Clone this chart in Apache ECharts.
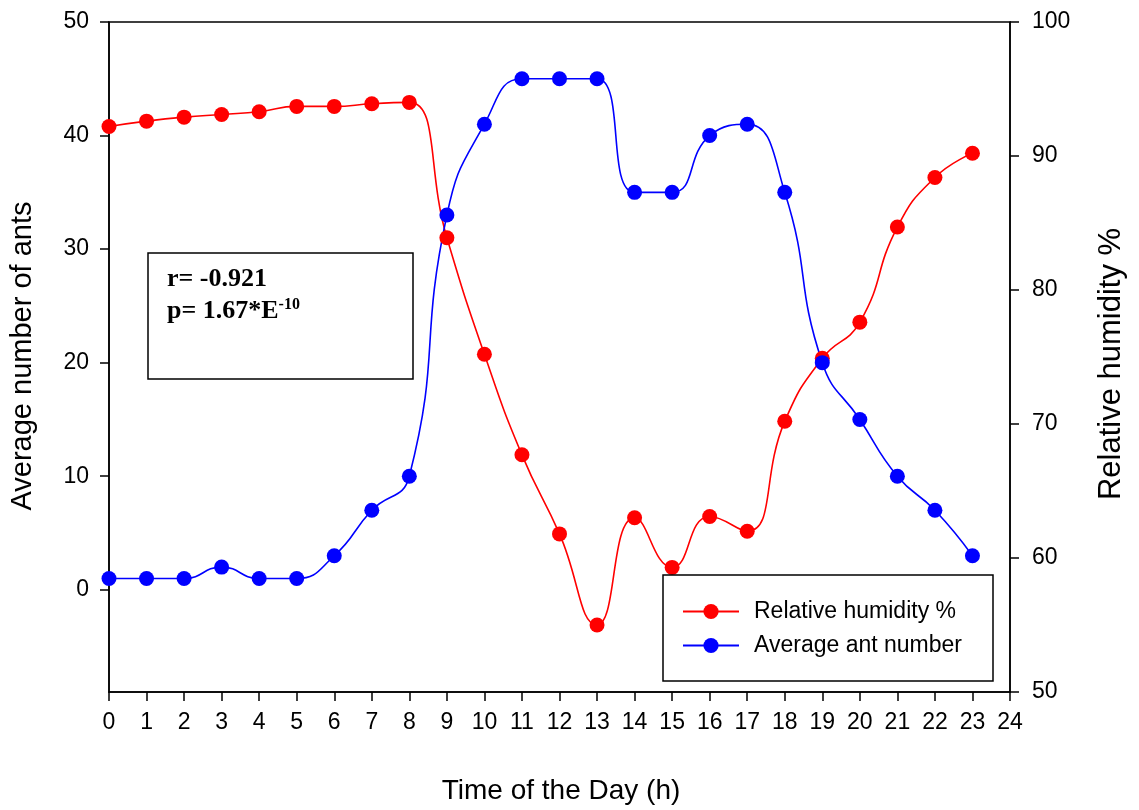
<!DOCTYPE html>
<html>
<head>
<meta charset="utf-8">
<script src="https://cdn.jsdelivr.net/npm/echarts@6/dist/echarts.min.js"></script>
<style>html,body{margin:0;padding:0;background:#fff}#c{width:1139px;height:810px}</style>
</head>
<body>
<div id="c"></div>
<script>
const hours = [0,1,2,3,4,5,6,7,8,9,10,11,12,13,14,15,16,17,18,19,20,21,22,23];
const humidity = [92.2,92.6,92.9,93.1,93.3,93.7,93.7,93.9,94.0,83.9,75.2,67.7,61.8,55.0,63.0,59.3,63.1,62.0,70.2,74.9,77.6,84.7,88.4,90.2];
const ants = [1,1,1,2,1,1,3,7,10,33,41,45,45,45,35,35,40,41,35,20,15,10,7,3];
const leftTicks = [0,10,20,30,40,50];
const seriesNames = ['Relative humidity %','Average ant number'];
const xTitle = 'Time of the Day (h)';
const yLeftTitle = 'Average number of ants';
const yRightTitle = 'Relative humidity %';
const statLines = ['r= -0.921','p= 1.67*E','-10'];

const font = 'Liberation Sans, Arial, sans-serif';
const chart = echarts.init(document.getElementById('c'), null, {renderer:'canvas'});
const axisLineStyle = {color:'#000', width:1.5};
chart.setOption({
  animation:false,
  backgroundColor:'#fff',
  grid:{left:109, right:129, top:22, bottom:118, show:true, borderColor:'#000', borderWidth:1.5, backgroundColor:'transparent'},
  xAxis:{type:'value', min:0, max:24, interval:1,
    axisLine:{show:true, onZero:false, lineStyle:axisLineStyle},
    axisTick:{show:true, inside:false, length:9, lineStyle:axisLineStyle},
    axisLabel:{fontSize:23, color:'#000', fontFamily:font, margin:19},
    splitLine:{show:false}},
  yAxis:[
    {type:'value', min:-9, max:50, position:'left',
      axisLine:{show:true, lineStyle:axisLineStyle},
      axisTick:{show:true, length:9, lineStyle:axisLineStyle, customValues:leftTicks},
      axisLabel:{fontSize:23, color:'#000', fontFamily:font, margin:20, customValues:leftTicks},
      splitLine:{show:false}},
    {type:'value', min:50, max:100, interval:10, position:'right',
      axisLine:{show:true, lineStyle:axisLineStyle},
      axisTick:{show:true, length:9, lineStyle:axisLineStyle},
      axisLabel:{fontSize:23, color:'#000', fontFamily:font, margin:22},
      splitLine:{show:false}}
  ],
  legend:{orient:'vertical', left:682, top:600, padding:0, itemGap:11, itemWidth:56, itemHeight:19,
    textStyle:{fontSize:23, color:'#000', fontFamily:font, padding:[0,0,0,10]},
    data:seriesNames},
  series:[
    {name:seriesNames[0], type:'line', yAxisIndex:1, smooth:0.5, symbol:'circle', symbolSize:15,
      itemStyle:{color:'#ff0000'}, lineStyle:{color:'#ff0000', width:1.6},
      data:hours.map((h,i)=>[h, humidity[i]])},
    {name:seriesNames[1], type:'line', yAxisIndex:0, smooth:0.5, symbol:'circle', symbolSize:15,
      itemStyle:{color:'#0000ff'}, lineStyle:{color:'#0000ff', width:1.6},
      data:hours.map((h,i)=>[h, ants[i]])}
  ],
  graphic:[
    {type:'rect', shape:{x:663, y:575, width:330, height:106}, style:{fill:null, stroke:'#000', lineWidth:1.5}, z:100},
    {type:'rect', shape:{x:148, y:253, width:265, height:126}, style:{fill:'#fff', stroke:'#000', lineWidth:1.5}, z:100},
    {type:'text', x:167, y:266, z:101, style:{text:statLines[0], font:'bold 26px "Liberation Serif", "Times New Roman", serif', fill:'#000'}},
    {type:'text', x:167, y:297, z:101, style:{text:'{a|'+statLines[1]+'}{s|'+statLines[2]+'}', fill:'#000',
      rich:{a:{fontSize:26, fontWeight:'bold', fontFamily:'Liberation Serif', lineHeight:28},
            s:{fontSize:16, fontWeight:'bold', fontFamily:'Liberation Serif', verticalAlign:'top', lineHeight:28}}}},
    {type:'text', x:23, y:356, rotation:Math.PI/2, z:101, style:{text:yLeftTitle, font:'29px '+font, fill:'#000', align:'center', verticalAlign:'middle'}},
    {type:'text', x:1111, y:364, rotation:Math.PI/2, z:101, style:{text:yRightTitle, font:'31px '+font, fill:'#000', align:'center', verticalAlign:'middle'}},
    {type:'text', x:561, y:791, z:101, style:{text:xTitle, font:'28px '+font, fill:'#000', align:'center', verticalAlign:'middle'}}
  ]
});
</script>
</body>
</html>
